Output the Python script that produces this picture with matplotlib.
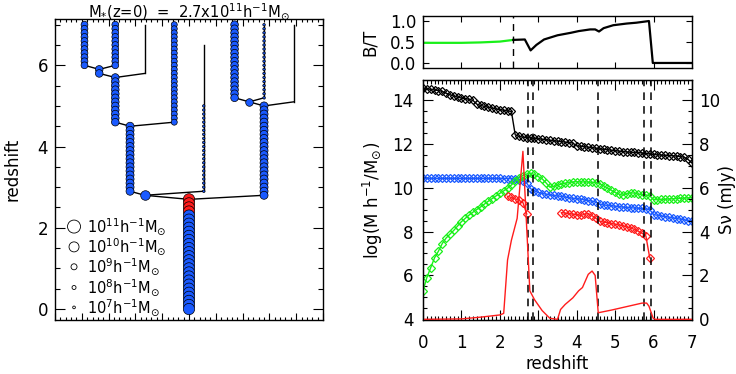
import numpy as np
import matplotlib
matplotlib.use('Agg')
import matplotlib.pyplot as plt
from matplotlib.ticker import MultipleLocator, NullFormatter

plt.rcParams['font.family'] = ['DejaVu Sans']
plt.rcParams['font.size'] = 12

# snapshot redshifts
snap_z = [0.0, 0.1, 0.2, 0.3, 0.4, 0.5, 0.6, 0.7, 0.8, 0.9,
          1.0, 1.1, 1.2, 1.3, 1.4, 1.5, 1.6, 1.7, 1.8, 1.9,
          2.0, 2.1, 2.2, 2.3, 2.4, 2.5, 2.6, 2.7, 2.8, 2.9,
          3.0, 3.1, 3.2, 3.3, 3.4, 3.5, 3.6, 3.7, 3.8, 3.9,
          4.0, 4.1, 4.2, 4.3, 4.4, 4.5, 4.6, 4.7, 4.8, 4.9,
          5.0, 5.1, 5.2, 5.3, 5.4, 5.5, 5.6, 5.7, 5.8, 5.9,
          6.0, 6.1, 6.2, 6.3, 6.4, 6.5, 6.6, 6.7, 6.8, 6.9,
          7.0]

# merger tree: one entry per branch
tree_x = [1.1, 2.25, 1.65, 3.35, 2.25, 4.45, 2.8, 3.35, 5.55, 6.7, 7.8, 7.25, 8.9, 7.8, 5.0]
tree_ztop = [7.0, 7.0, 5.9, 7.0, 5.7, 7.0, 4.5, 2.8, 6.5, 7.0, 7.0, 5.1, 7.0, 5.0, 2.7]
tree_zcirc = [7.0, 7.0, 5.9, np.nan, 5.7, 7.0, 4.5, 2.8, 5.0, 7.0, 7.0, 5.1, np.nan, 5.0, 2.7]
tree_zbot = [6.0, 6.0, 5.8, 5.8, 4.6, 4.6, 2.9, 2.8, 2.9, 5.2, 5.2, 5.1, 5.1, 2.8, 0.0]
tree_logm = [9.2, 9.2, 9.4, np.nan, 9.4, 9.0, 9.5, 9.9, 6.8, 9.4, 6.8, 9.4, np.nan, 9.5, 10.45]
tree_desc = [2, 2, 4, 4, 6, 6, 7, 14, 7, 11, 11, 13, 13, 14, -1]
burst_zrange = (2.35, 2.75)   # red circles on the main branch

legend_logm = [11, 10, 9, 8, 7]

# right panel, per snapshot
m_halo = [14.53, 14.50, 14.47, 14.45, 14.42, 14.38, 14.30, 14.23, 14.17, 14.12,
          14.08, 14.05, 14.02, 13.97, 13.80, 13.74, 13.70, 13.66, 13.62, 13.58,
          13.55, 13.52, 13.49, 13.47, 12.40, 12.33, 12.30, 12.28, 12.26, 12.24,
          12.22, 12.20, 12.18, 12.15, 12.13, 12.11, 12.09, 12.07, 12.05, 12.03,
          11.90, 11.88, 11.86, 11.84, 11.82, 11.79, 11.76, 11.74, 11.72, 11.70,
          11.68, 11.66, 11.64, 11.62, 11.61, 11.60, 11.59, 11.58, 11.55, 11.53,
          11.51, 11.49, 11.48, 11.47, 11.46, 11.45, 11.43, 11.41, 11.38, 11.28,
          11.12]
m_star = [10.42, 10.42, 10.42, 10.42, 10.42, 10.42, 10.42, 10.42, 10.42, 10.42,
          10.42, 10.42, 10.42, 10.42, 10.42, 10.42, 10.42, 10.42, 10.42, 10.42,
          10.42, 10.41, 10.41, 10.40, 10.38, 10.35, 10.30, 10.20, 9.95, 9.85,
          9.78, 9.73, 9.70, 9.67, 9.64, 9.62, 9.60, 9.57, 9.54, 9.51,
          9.49, 9.47, 9.44, 9.41, 9.38, 9.34, 9.24, 9.21, 9.19, 9.17,
          9.15, 9.13, 9.11, 9.10, 9.08, 9.07, 9.06, 9.05, 9.03, 9.00,
          8.77, 8.74, 8.71, 8.68, 8.65, 8.62, 8.59, 8.56, 8.53, 8.50,
          8.47]
m_gas = [5.30, 5.90, 6.35, 6.80, 7.10, 7.45, 7.70, 7.88, 8.05, 8.25,
         8.45, 8.60, 8.75, 8.88, 9.00, 9.12, 9.25, 9.38, 9.50, 9.62,
         9.74, 9.85, 9.97, 10.12, 10.28, 10.45, 10.55, 10.62, 10.65, 10.60,
         10.50, 10.40, 10.22, 10.02, 10.05, 10.10, 10.16, 10.20, 10.23, 10.26,
         10.27, 10.25, 10.26, 10.25, 10.24, 10.22, 10.18, 10.08, 9.98, 9.88,
         9.78, 9.70, 9.65, 9.72, 9.76, 9.75, 9.70, 9.68, 9.66, 9.62,
         9.45, 9.45, 9.46, 9.47, 9.48, 9.49, 9.50, 9.51, 9.52, 9.53,
         9.54]
red_z1 = [2.2, 2.3, 2.4, 2.5, 2.6, 2.7]
red_m1 = [9.60, 9.55, 9.48, 9.42, 9.32, 8.80]
red_z2 = [3.6, 3.7, 3.8, 3.9, 4.0, 4.1, 4.2, 4.3, 4.4, 4.5, 4.6, 4.7,
          4.8, 4.9, 5.0, 5.1, 5.2, 5.3, 5.4, 5.5, 5.6, 5.7, 5.8, 5.9]
red_m2 = [8.86, 8.84, 8.81, 8.79, 8.77, 8.73, 8.78, 8.82, 8.72, 8.60, 8.47, 8.43,
          8.40, 8.36, 8.33, 8.30, 8.26, 8.21, 8.16, 8.10, 8.02, 7.92, 7.80, 6.80]

snu_z = [0.0, 1.0, 1.5, 2.0, 2.1, 2.2, 2.3, 2.45, 2.6, 2.78, 2.9, 3.1, 3.3, 3.5,
         3.58, 3.7, 3.9, 4.05, 4.15, 4.3, 4.4, 4.48, 4.56, 4.9, 5.1, 5.4, 5.7,
         5.82, 5.88, 5.99, 6.05, 7.0]
snu = [0.0, 0.02, 0.1, 0.2, 0.27, 2.7, 3.6, 4.6, 7.65, 1.3, 0.9, 0.4, 0.05, 0.0,
       0.45, 0.68, 0.98, 1.3, 1.45, 2.05, 2.2, 2.0, 0.3, 0.42, 0.5, 0.62, 0.74,
       0.74, 0.6, 0.05, 0.0, 0.0]
merger_z = [2.74, 2.85, 4.55, 5.75, 5.93]

bt_green_z = [0.0, 0.5, 1.0, 1.5, 2.0, 2.35]
bt_green = [0.48, 0.48, 0.48, 0.49, 0.51, 0.55]
bt_black_z = [2.35, 2.65, 2.8, 2.95, 3.15, 3.5, 3.85, 4.05, 4.35, 4.48, 4.58,
              4.7, 4.95, 5.3, 5.55, 5.88, 5.98, 7.0]
bt_black = [0.55, 0.56, 0.30, 0.43, 0.56, 0.66, 0.72, 0.76, 0.80, 0.80, 0.75,
            0.83, 0.90, 0.94, 0.96, 1.00, 0.0, 0.0]
bt_vline = 2.35

blue = '#1a5aff'
red = '#ff1c1c'
green = '#19f019'


def circ_size(logm):
    # marker diameter (px) from stellar mass, same scale as the legend
    d = np.interp(logm, [6, 7, 8, 9, 10, 11], [1.8, 2.7, 4.0, 6.0, 10.0, 13.0])
    return (d * 0.72) ** 2


def style(ax, maj=7, mnr=3.5):
    ax.tick_params(which='both', direction='in', top=True, right=True, width=0.8)
    ax.tick_params(which='major', length=maj)
    ax.tick_params(which='minor', length=mnr)
    for s in ax.spines.values():
        s.set_linewidth(1.0)


fig = plt.figure(figsize=(7.36, 3.74), dpi=100)

# ---- merger tree ----
ax = fig.add_axes([55 / 736, 54 / 374, 268 / 736, 301 / 374])
z = np.array(snap_z)
for i in range(len(tree_x)):
    x = tree_x[i]
    ax.plot([x, x], [tree_ztop[i], tree_zbot[i]], 'k-', lw=1.0, zorder=1)
    d = tree_desc[i]
    if d >= 0:
        ax.plot([x, tree_x[d]], [tree_zbot[i], tree_ztop[d]], 'k-', lw=1.0, zorder=1)
for i in range(len(tree_x)):
    if np.isnan(tree_logm[i]):
        continue
    sel = (z >= tree_zbot[i] - 1e-6) & (z <= tree_zcirc[i] + 1e-6)
    zz = np.sort(z[sel])[::-1]
    main = tree_desc[i] == -1
    cols = [red if (main and burst_zrange[0] <= q <= burst_zrange[1]) else blue
            for q in zz]
    ax.scatter([tree_x[i]] * len(zz), zz, s=circ_size(tree_logm[i]), c=cols,
               edgecolors='k', linewidths=0.5, zorder=2)

leg_y = [2.03, 1.53, 1.04, 0.53, 0.04]
for lm, ly in zip(legend_logm, leg_y):
    ax.scatter([0.71], [ly], s=circ_size(lm), facecolors='none', edgecolors='k',
               linewidths=0.6, zorder=3)
    ax.text(1.2, ly, '10$^{%d}$h$^{-1}$M$_{\\odot}$' % lm, fontsize=10.5,
            va='center', ha='left')

ax.set_xlim(0, 10)
ax.set_ylim(-0.27, 7.14)
ax.xaxis.set_major_locator(MultipleLocator(1))
ax.xaxis.set_minor_locator(MultipleLocator(0.2))
ax.xaxis.set_major_formatter(NullFormatter())
ax.yaxis.set_major_locator(MultipleLocator(2))
ax.yaxis.set_minor_locator(MultipleLocator(0.5))
style(ax, maj=7, mnr=3.5)
ax.tick_params(axis='x', which='major', length=5)
ax.tick_params(axis='x', which='minor', length=2.5)
ax.tick_params(axis='y', pad=5)
ax.set_ylabel('redshift')
ax.yaxis.set_label_coords(-0.125, 0.5)
fig.text(189 / 736, 0.997, 'M$_{*}$(z=0)  =  2.7x10$^{11}$h$^{-1}$M$_{\\odot}$',
         fontsize=10.6, ha='center', va='top')

# ---- B/T panel ----
axt = fig.add_axes([423 / 736, 306 / 374, 269 / 736, 52 / 374])
axt.plot(bt_green_z, bt_green, color=green, lw=1.6)
axt.plot(bt_black_z, bt_black, color='k', lw=1.6)
axt.axvline(bt_vline, color='k', ls=(0, (5, 4)), lw=1.0)
axt.set_xlim(0, 7)
axt.set_ylim(-0.12, 1.12)
axt.xaxis.set_major_locator(MultipleLocator(1))
axt.xaxis.set_major_formatter(NullFormatter())
axt.yaxis.set_major_locator(MultipleLocator(0.5))
axt.yaxis.set_major_formatter(lambda v, p: '%.1f' % v)
style(axt, maj=4, mnr=2)
axt.tick_params(axis='y', pad=5)
axt.set_ylabel('B/T')
axt.yaxis.set_label_coords(-0.165, 0.5)

# ---- masses + Snu panel ----
axb = fig.add_axes([423 / 736, 54 / 374, 269 / 736, 240 / 374])
mk = dict(marker='D', ms=4, mfc='none', mew=0.9, lw=1.0)
axb.plot(snap_z, m_halo, color='k', **mk)
axb.plot(snap_z, m_star, color=blue, **mk)
axb.plot(snap_z, m_gas, color=green, **mk)
axb.plot(red_z1, red_m1, color=red, **mk)
axb.plot(red_z2, red_m2, color=red, **mk)
for zm in merger_z:
    axb.axvline(zm, color='k', ls=(0, (5, 4)), lw=1.1)
axb.set_xlim(0, 7)
axb.set_ylim(3.97, 14.9)
axb.xaxis.set_major_locator(MultipleLocator(1))
axb.xaxis.set_minor_locator(MultipleLocator(0.1))
axb.yaxis.set_major_locator(MultipleLocator(2))
axb.yaxis.set_minor_locator(MultipleLocator(0.5))
style(axb, maj=7, mnr=3)
axb.tick_params(right=False, which='both')
axb.tick_params(axis='x', pad=10)
axb.tick_params(axis='y', pad=7)
axb.set_xlabel('redshift', labelpad=2)
axb.set_ylabel('log(M h$^{-1}$/M$_{\\odot}$)')
axb.yaxis.set_label_coords(-0.14, 0.5)

axr = axb.twinx()
axr.plot(snu_z, snu, color=red, lw=1.0)
axr.set_ylim(-0.03, 10.9)
axr.yaxis.set_major_locator(MultipleLocator(2))
axr.yaxis.set_minor_locator(MultipleLocator(0.5))
axr.tick_params(which='both', direction='in', width=0.8)
axr.tick_params(which='major', length=7)
axr.tick_params(which='minor', length=3)
axr.tick_params(axis='y', pad=5)
axr.set_ylabel('S\u03bd (mJy)')
axr.yaxis.set_label_coords(1.095, 0.5)

fig.savefig('out.png', dpi=100)
